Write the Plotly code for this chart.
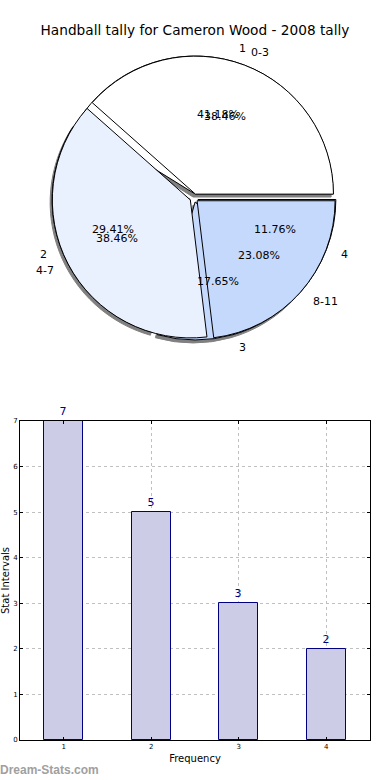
import math
import plotly.graph_objects as go

# ---- data ----
pie1_labels = ["1", "2", "3", "4"]
pie1_values = [7, 5, 3, 2]
pie2_labels = ["0-3", "4-7", "8-11"]
pie2_values = [5, 5, 3]
slice_colors = ["#ffffff", "#eaf1fe", "#c5d9fd", "#c5d9fd"]

bar_categories = [1, 2, 3, 4]
bar_values = [7, 5, 3, 2]

title_text = "Handball tally for Cameron Wood - 2008 tally"
x_title = "Frequency"
y_title = "Stat Intervals"
watermark = "Dream-Stats.com"

W, H = 390, 780
FONT = "DejaVu Sans"

# pie geometry (pixels)
CX, CY, R = 194, 198, 138
PULL = 0.03
SIDE = 2 * R * (1 + PULL)


def px_to_paper(x, y):
    return x / W, 1 - y / H


def dom(cx, cy):
    x0, y0 = px_to_paper(cx - SIDE / 2, cy + SIDE / 2)
    x1, y1 = px_to_paper(cx + SIDE / 2, cy - SIDE / 2)
    return dict(x=[x0, x1], y=[y0, y1])


def start_rotation(values):
    # plotly: for counterclockwise, first slice spans clockwise from `rotation`;
    # make the first slice start at 3 o'clock going counterclockwise
    return 90 - 360 * values[0] / sum(values)


def mid_angles(values):
    tot = sum(values)
    out, acc = [], 0
    for v in values:
        out.append(math.radians(360 * (acc + v / 2) / tot))
        acc += v
    return out


fig = go.Figure()

# shadow
fig.add_trace(go.Pie(
    values=pie1_values, labels=pie1_labels, sort=False,
    direction="counterclockwise", rotation=start_rotation(pie1_values),
    pull=[PULL] * len(pie1_values),
    marker=dict(colors=["#808080"] * len(pie1_values), line=dict(color="#808080", width=1)),
    textinfo="none", domain=dom(CX - 2, CY + 3), showlegend=False, hoverinfo="skip",
))
# first pie
fig.add_trace(go.Pie(
    values=pie1_values, labels=pie1_labels, sort=False,
    direction="counterclockwise", rotation=start_rotation(pie1_values),
    pull=[PULL] * len(pie1_values),
    marker=dict(colors=slice_colors[:len(pie1_values)], line=dict(color="#000000", width=1)),
    textinfo="none", domain=dom(CX, CY), showlegend=False,
))
# second pie
fig.add_trace(go.Pie(
    values=pie2_values, labels=pie2_labels, sort=False,
    direction="counterclockwise", rotation=start_rotation(pie2_values),
    pull=[PULL] * len(pie2_values),
    marker=dict(colors=slice_colors[:len(pie2_values)], line=dict(color="#000000", width=1)),
    textinfo="none", domain=dom(CX, CY), showlegend=False,
))

annotations = []
for labels, values in ((pie1_labels, pie1_values), (pie2_labels, pie2_values)):
    tot = sum(values)
    for lab, v, th in zip(labels, values, mid_angles(values)):
        c, s = math.cos(th), math.sin(th)
        # percentage text at 0.6 r
        px = CX + (PULL + 0.6) * R * c
        py = CY - (PULL + 0.6) * R * s
        ax, ay = px_to_paper(px, py)
        annotations.append(dict(
            text=f"{100 * v / tot:.2f}%", x=ax, y=ay, xref="paper", yref="paper",
            xanchor="center", yanchor="middle", showarrow=False,
            font=dict(family=FONT, size=11, color="#000000")))
        # label at 1.1 r
        lx = CX + (PULL + 1.1) * R * c
        ly = CY - (PULL + 1.1) * R * s
        bx, by = px_to_paper(lx, ly)
        annotations.append(dict(
            text=lab, x=bx, y=by, xref="paper", yref="paper",
            xanchor="left" if c > 0 else "right", yanchor="middle", showarrow=False,
            font=dict(family=FONT, size=11, color="#000000")))

# bar chart
fig.add_trace(go.Bar(
    x=bar_categories, y=bar_values, width=0.45,
    marker=dict(color="#cccce6", line=dict(color="#000080", width=1)),
    text=[str(v) for v in bar_values], textposition="outside",
    textfont=dict(family=FONT, size=11, color="#000080"),
    cliponaxis=False, showlegend=False, xaxis="x", yaxis="y",
))

axis_common = dict(
    showline=True, linecolor="#000000", linewidth=1, mirror="allticks",
    ticks="inside", ticklen=3, tickcolor="#000000",
    showgrid=True, gridcolor="#c0c0c0", griddash="dot", gridwidth=1,
    zeroline=False, tickfont=dict(family=FONT, size=7, color="#000000"),
    automargin=False,
)

annotations.append(dict(
    text=watermark, x=-2 / W, xref="paper", xanchor="left",
    y=1 - 770 / H, yref="paper", yanchor="middle", showarrow=False,
    font=dict(family="Liberation Sans", size=12, color="#a0a0a0", weight="bold")))

fig.update_layout(
    width=W, height=H,
    margin=dict(l=0, r=0, t=0, b=0, autoexpand=False),
    paper_bgcolor="#ffffff", plot_bgcolor="#ffffff",
    font=dict(family=FONT, color="#000000"),
    title=dict(text=title_text, x=0.5, xanchor="center", y=1 - 30 / H, yanchor="middle",
               font=dict(family=FONT, size=13.7, color="#000000")),
    xaxis=dict(domain=[20 / W, 370 / W], range=[0.5, 4.5], tickvals=bar_categories,
               title=dict(text=x_title, font=dict(family=FONT, size=10), standoff=4),
               **axis_common),
    yaxis=dict(domain=[1 - 740 / H, 1 - 421 / H], range=[0, 7], dtick=1,
               title=dict(text=y_title, font=dict(family=FONT, size=10), standoff=2),
               **axis_common),
    bargap=0,
    annotations=annotations,
)

fig.write_html("out.html", config={"displayModeBar": False},
               post_script="document.body.style.margin='0';")
